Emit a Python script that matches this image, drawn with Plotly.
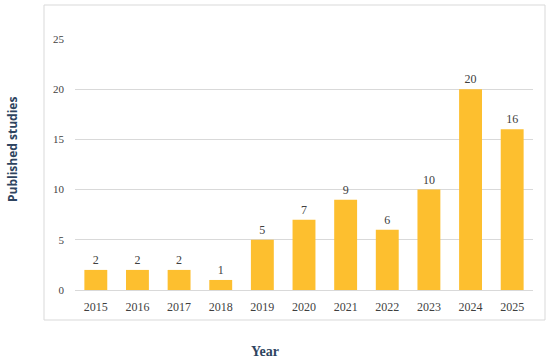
import plotly.graph_objects as go

years = ["2015", "2016", "2017", "2018", "2019", "2020", "2021", "2022", "2023", "2024", "2025"]
studies = [2, 2, 2, 1, 5, 7, 9, 6, 10, 20, 16]
y_ticks = [0, 5, 10, 15, 20, 25]

L, R, T, B = 75, 17, 39, 71
W, H = 550, 361
pw, ph = W - L - R, H - T - B

def px_to_paper_x(px):
    return (px - L) / pw

def px_to_paper_y(py):
    return (H - B - py) / ph

fig = go.Figure(go.Bar(
    x=years, y=studies,
    marker=dict(color="#FDBF2F", line=dict(width=0)),
    text=[str(v) for v in studies], textposition="outside",
    textfont=dict(family="Liberation Serif, serif", size=12, color="#404040"),
    cliponaxis=False,
))

fig.update_layout(
    width=W, height=H,
    margin=dict(l=L, r=R, t=T, b=B),
    paper_bgcolor="white", plot_bgcolor="white",
    bargap=0.45,
    showlegend=False,
    xaxis=dict(
        type="category", showgrid=False, zeroline=False, showline=False,
        tickfont=dict(family="Liberation Serif, serif", size=12, color="#3F3F3F"),
        ticks="", ticklen=0, ticklabelstandoff=8,
    ),
    yaxis=dict(
        range=[0, 25], tickvals=y_ticks, showgrid=True, gridcolor="#D9D9D9", gridwidth=1,
        zeroline=True, zerolinecolor="#D9D9D9", zerolinewidth=1, showline=False,
        tickfont=dict(family="Liberation Serif, serif", size=11, color="#3F3F3F"),
        ticks="", ticklabelstandoff=10,
    ),
    shapes=[dict(
        type="rect", xref="paper", yref="paper",
        x0=px_to_paper_x(44), x1=px_to_paper_x(545),
        y0=px_to_paper_y(320), y1=px_to_paper_y(5),
        line=dict(color="#D9D9D9", width=1), fillcolor="rgba(0,0,0,0)", layer="below",
    )],
    annotations=[
        dict(text="<b>Published studies</b>", xref="paper", yref="paper",
             x=px_to_paper_x(12), y=px_to_paper_y(150), textangle=-90, showarrow=False,
             font=dict(family="Open Sans, sans-serif", size=12, color="#2E4460"),
             xanchor="center", yanchor="middle"),
        dict(text="<b>Year</b>", xref="paper", yref="paper",
             x=px_to_paper_x(265), y=px_to_paper_y(351), showarrow=False,
             font=dict(family="Liberation Serif, serif", size=14, color="#2E4460"),
             xanchor="center", yanchor="middle"),
    ],
)

fig.write_html("out.html", config={"displayModeBar": False},
               post_script="document.body.style.margin='0';document.body.style.overflow='hidden';")
